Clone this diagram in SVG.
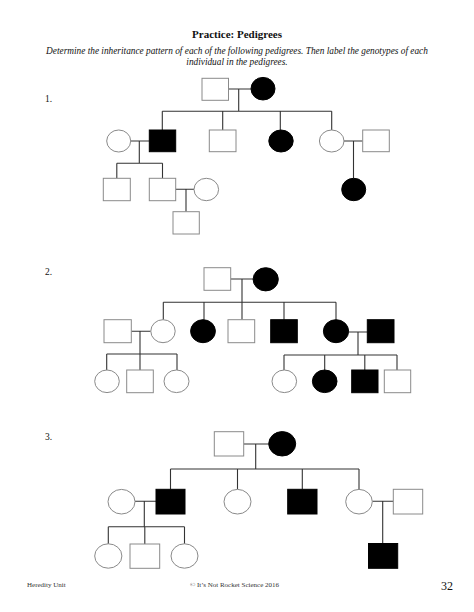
<svg xmlns="http://www.w3.org/2000/svg" width="474" height="612" viewBox="0 0 474 612">
<style>
text{font-family:"Liberation Serif","Times New Roman",serif;fill:#111}
.t{font-size:11px;font-weight:bold}
.s{font-size:9.3px;font-style:italic}
.n{font-size:9.5px}
.f{font-size:7px;fill:#333}
.o{fill:#fff;stroke:#8a8a8a;stroke-width:1}
.b{fill:#000;stroke:#000;stroke-width:1}
.l{stroke:#333;stroke-width:1.1;fill:none}
</style>
<rect width="474" height="612" fill="#fff"/>
<text class="t" x="237" y="38" text-anchor="middle">Practice: Pedigrees</text>
<text class="s" x="237" y="54" text-anchor="middle">Determine the inheritance pattern of each of the following pedigrees.  Then label the genotypes of each</text>
<text class="s" x="237" y="65" text-anchor="middle">individual in the pedigrees.</text>
<text class="n" x="45" y="102">1.</text>
<text class="n" x="45" y="275">2.</text>
<text class="n" x="45" y="440">3.</text>

<g id="connectors">
<!-- pedigree 1 -->
<path class="l" d="M228 89H251M238.7 89V111.3M162.3 111.3H331.7M162.3 111.3V130M222.7 111.3V130M280.3 111.3V130M331.7 111.3V130"/>
<path class="l" d="M130.7 141H149.3M139.3 141V163.3M116.8 163.3H162.5M116.8 163.3V178.3M162.5 163.3V178.3"/>
<path class="l" d="M344 141H362.7M353.5 141V178.3"/>
<path class="l" d="M175.7 189.3H194M186 189.3V211.7"/>
<!-- pedigree 2 -->
<path class="l" d="M230.7 279H253M242 279V302.3M163.3 302.3H336M163.3 302.3V319.7M204 302.3V319.7M242 302.3V319.7M284 302.3V319.7M336 302.3V319.7"/>
<path class="l" d="M131.3 331.3H150.7M140 331.3V354M106.7 354H177M106.7 354V370M140 354V370M177 354V370"/>
<path class="l" d="M348.7 332H367.3M358 332V355M284 355H397M284 355V370M324.7 355V370M364.8 355V370M397 355V370"/>
<!-- pedigree 3 -->
<path class="l" d="M243.7 444H268.7M255.7 444V469M170.5 469H359M170.5 469V489.3M237.5 469V489.3M302.3 469V489.3M359 469V489.3"/>
<path class="l" d="M135 501.3H156M144.3 501.3V526.7M108.3 526.7H184.5M108.3 526.7V544M144.8 526.7V544M184.5 526.7V544"/>
<path class="l" d="M372.3 501.3H393.3M382.7 501.3V544"/>
</g>

<!-- pedigree 1 nodes -->
<g id="p1-father"><rect class="o" x="202" y="78.3" width="26.5" height="22"/></g>
<g id="p1-mother"><ellipse class="b" cx="263" cy="88.7" rx="12" ry="11.3"/></g>
<g id="p1-wife"><ellipse class="o" cx="118.7" cy="141" rx="12" ry="11"/></g>
<g id="p1-son1"><rect class="b" x="149.3" y="130" width="26.4" height="21.7"/></g>
<g id="p1-son2"><rect class="o" x="209.3" y="130" width="26.7" height="21.7"/></g>
<g id="p1-dau1"><ellipse class="b" cx="281" cy="141" rx="12.2" ry="11"/></g>
<g id="p1-dau2"><ellipse class="o" cx="331.7" cy="141" rx="12.3" ry="11"/></g>
<g id="p1-husb"><rect class="o" x="362.7" y="130" width="26.6" height="21.7"/></g>
<g id="p1-gc1"><rect class="o" x="103.3" y="178.3" width="27" height="22.4"/></g>
<g id="p1-gc2"><rect class="o" x="149.3" y="178.3" width="26.4" height="22.4"/></g>
<g id="p1-gc2wife"><ellipse class="o" cx="206.3" cy="189.5" rx="12.3" ry="11.2"/></g>
<g id="p1-gc3"><ellipse class="b" cx="353.7" cy="189.5" rx="12" ry="11.2"/></g>
<g id="p1-ggc"><rect class="o" x="173" y="211.7" width="26.3" height="22.3"/></g>

<!-- pedigree 2 nodes -->
<g id="p2-father"><rect class="o" x="204" y="267.7" width="26.7" height="22.6"/></g>
<g id="p2-mother"><ellipse class="b" cx="265.7" cy="279.3" rx="12.6" ry="11.6"/></g>
<g id="p2-inlaw"><rect class="o" x="104" y="319.7" width="27.3" height="23"/></g>
<g id="p2-c1"><ellipse class="o" cx="163" cy="331.2" rx="12.2" ry="11.5"/></g>
<g id="p2-c2"><ellipse class="b" cx="203" cy="331.2" rx="12.4" ry="11.5"/></g>
<g id="p2-c3"><rect class="o" x="228" y="319.7" width="26.7" height="23"/></g>
<g id="p2-c4"><rect class="b" x="270.7" y="319.7" width="26.6" height="23"/></g>
<g id="p2-c5"><ellipse class="b" cx="336" cy="331.2" rx="12.6" ry="11.5"/></g>
<g id="p2-c5husb"><rect class="b" x="367.3" y="319.7" width="26.7" height="23"/></g>
<g id="p2-g1"><ellipse class="o" cx="107" cy="381.3" rx="12.3" ry="11.3"/></g>
<g id="p2-g2"><rect class="o" x="126.7" y="370" width="26.6" height="22.7"/></g>
<g id="p2-g3"><ellipse class="o" cx="176.5" cy="381.3" rx="12.5" ry="11.3"/></g>
<g id="p2-g4"><ellipse class="o" cx="284.3" cy="381.3" rx="12.3" ry="11.3"/></g>
<g id="p2-g5"><ellipse class="b" cx="324.7" cy="381.3" rx="12.3" ry="11.3"/></g>
<g id="p2-g6"><rect class="b" x="351.7" y="370" width="26.3" height="22.7"/></g>
<g id="p2-g7"><rect class="o" x="384.3" y="370" width="26.4" height="22.7"/></g>

<!-- pedigree 3 nodes -->
<g id="p3-father"><rect class="o" x="214.3" y="431.7" width="29.4" height="24.3"/></g>
<g id="p3-mother"><ellipse class="b" cx="282.2" cy="443.8" rx="13.5" ry="12.2"/></g>
<g id="p3-wife"><ellipse class="o" cx="121.5" cy="501.7" rx="13.5" ry="12.3"/></g>
<g id="p3-c1"><rect class="b" x="156" y="489.3" width="29" height="24.7"/></g>
<g id="p3-c2"><ellipse class="o" cx="237.5" cy="501.7" rx="13.5" ry="12.3"/></g>
<g id="p3-c3"><rect class="b" x="287.7" y="489.3" width="29.3" height="24.7"/></g>
<g id="p3-c4"><ellipse class="o" cx="359" cy="501.7" rx="13.3" ry="12.3"/></g>
<g id="p3-c4husb"><rect class="o" x="393.3" y="489.3" width="29.4" height="24.7"/></g>
<g id="p3-g1"><ellipse class="o" cx="108.3" cy="556" rx="13.6" ry="12.2"/></g>
<g id="p3-g2"><rect class="o" x="130" y="544" width="29.7" height="24.3"/></g>
<g id="p3-g3"><ellipse class="o" cx="184.5" cy="556" rx="13.5" ry="12.2"/></g>
<g id="p3-g4"><rect class="b" x="368.5" y="543.5" width="29.2" height="24.8"/></g>

<text class="f" x="27" y="587">Heredity Unit</text>
<text class="f" x="234.5" y="587" text-anchor="middle">© It’s Not Rocket Science 2016</text>
<text x="441" y="590" style="font-size:12px">32</text>
</svg>
